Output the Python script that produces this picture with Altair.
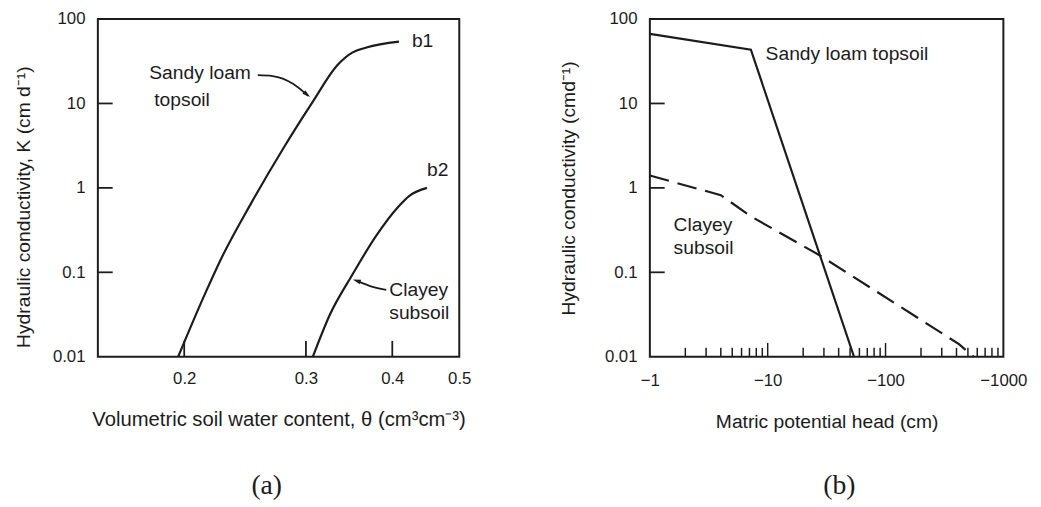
import altair as alt
import pandas as pd

# ---------------- Panel (a): K vs volumetric soil water content ----------------
a_sand_theta = [0.196, 0.214, 0.226, 0.250, 0.279, 0.307, 0.333, 0.350, 0.367, 0.409]
a_sand_k = [0.01, 0.054, 0.143, 0.66, 3.05, 10.5, 28.3, 40.0, 46.0, 54.0]
a_clay_theta = [0.307, 0.325, 0.350, 0.379, 0.409, 0.423, 0.449]
a_clay_k = [0.01, 0.0316, 0.093, 0.27, 0.61, 0.80, 1.0]

a_x_labels = [0.2, 0.3, 0.4, 0.5]
a_x_inner_ticks = [0.2, 0.3, 0.4]
a_y_labels = [0.01, 0.1, 1, 10, 100]
a_y_inner_ticks = [0.1, 1, 10]

a_text = ["Sandy loam", "topsoil", "b1", "b2", "Clayey", "subsoil"]
a_text_theta = [0.178, 0.181, 0.427, 0.449, 0.396, 0.396]
a_text_k = [22.8, 11.1, 55.4, 1.64, 0.0621, 0.0326]

a_arrow_id = ["s", "s", "s", "s", "c", "c", "c"]
a_arrow_theta = [0.2555, 0.2685, 0.2877, 0.3022, 0.392, 0.3707, 0.356]
a_arrow_k = [21.6, 21.1, 17.0, 12.3, 0.0621, 0.0692, 0.0791]
a_head_theta = [0.3005, 0.356]
a_head_k = [12.9, 0.0791]
a_head_angle = [129, 289]

# ---------------- Panel (b): K vs matric potential head ----------------
b_sand_h = [1, 7.2, 54]
b_sand_k = [66.7, 43.3, 0.01]
b_clay_h = [1, 4.0, 7.2, 28, 420, 560]
b_clay_k = [1.4, 0.82, 0.46, 0.157, 0.0141, 0.01]

b_x_labels = [1, 10, 100, 1000]
b_x_minor = [2, 3, 4, 5, 6, 7, 8, 9, 20, 30, 40, 50, 60, 70, 80, 90,
             200, 300, 400, 500, 600, 700, 800, 900]
b_x_major = [10, 100]
b_y_labels = [0.01, 0.1, 1, 10, 100]
b_y_inner_ticks = [0.1, 1, 10]

b_text = ["Sandy loam topsoil", "Clayey", "subsoil"]
b_text_h = [9.6, 1.59, 1.59]
b_text_k = [38.9, 0.363, 0.195]

# ---------------- styling ----------------
FONT = "Liberation Sans"
INK = "#1c1c1c"
W_A, W_B, H = 366, 358, 342
LW = 2.2
TFS = 19.5
HEAD = "M0,-1L0.5,0.7L-0.5,0.7Z"

# ---------------- Panel (a) ----------------
xa = alt.Scale(type="log", domain=[0.15, 0.5], nice=False)
ya = alt.Scale(type="log", domain=[0.01, 100], nice=False)
xa_axis = alt.Axis(values=a_x_labels, format=".1f",
                   title="Volumetric soil water content,  θ   (cm³cm⁻³)",
                   titleFontSize=20.5, labelPadding=14, titlePadding=24)
ya_axis = alt.Axis(values=a_y_labels, format="~g",
                   title="Hydraulic conductivity, K (cm d⁻¹)",
                   labelPadding=13, titlePadding=19, titleY=190)


def XA(f):
    return alt.X(f, scale=xa, axis=xa_axis)


def YA(f):
    return alt.Y(f, scale=ya, axis=ya_axis)


curves_a = pd.DataFrame({
    "theta": a_sand_theta + a_clay_theta,
    "K": a_sand_k + a_clay_k,
    "soil": ["b1"] * len(a_sand_theta) + ["b2"] * len(a_clay_theta),
})

lines_a = alt.Chart(curves_a).mark_line(
    interpolate="monotone", color=INK, strokeWidth=LW
).encode(x=XA("theta:Q"), y=YA("K:Q"), detail="soil:N")

ytick_a = alt.Chart(pd.DataFrame({"v": a_y_inner_ticks})).mark_rule(
    color=INK, strokeWidth=1.8
).encode(y=YA("v:Q"), x=alt.value(0), x2=alt.value(15))

xtick_a = alt.Chart(pd.DataFrame({"v": a_x_inner_ticks})).mark_rule(
    color=INK, strokeWidth=1.8
).encode(x=XA("v:Q"), y=alt.value(H), y2=alt.value(H - 16))

text_a = alt.Chart(pd.DataFrame({"t": a_text, "theta": a_text_theta, "K": a_text_k})).mark_text(
    align="left", baseline="middle", font=FONT, fontSize=TFS, color=INK
).encode(x=XA("theta:Q"), y=YA("K:Q"), text="t:N")

arrow_df = pd.DataFrame({"id": a_arrow_id, "theta": a_arrow_theta, "K": a_arrow_k,
                         "o": list(range(len(a_arrow_id)))})
arrows_a = alt.Chart(arrow_df).mark_line(
    interpolate="monotone", color=INK, strokeWidth=1.8
).encode(x=XA("theta:Q"), y=YA("K:Q"), detail="id:N", order="o:Q")

heads_a = alt.Chart(pd.DataFrame({"theta": a_head_theta, "K": a_head_k, "ang": a_head_angle})).mark_point(
    shape=HEAD, filled=True, size=90, color=INK, opacity=1
).encode(x=XA("theta:Q"), y=YA("K:Q"), angle=alt.Angle("ang:Q", scale=None))

panel_a = alt.layer(lines_a, ytick_a, xtick_a, text_a, arrows_a, heads_a).properties(
    width=W_A, height=H,
    title=alt.TitleParams("(a)", orient="bottom", font="Liberation Serif", fontSize=28,
                          fontWeight="normal", color=INK, offset=42, frame="group", dx=-12),
)

# ---------------- Panel (b) ----------------
xb = alt.Scale(type="log", domain=[1, 1000], nice=False)
yb = alt.Scale(type="log", domain=[0.01, 100], nice=False)
xb_axis = alt.Axis(values=b_x_labels, labelExpr="'\u2212' + format(datum.value, 'd')",
                   title="Matric potential head (cm)", labelPadding=16, titlePadding=25)
yb_axis = alt.Axis(values=b_y_labels, format="~g",
                   title="Hydraulic conductivity (cmd⁻¹)", labelPadding=13, titlePadding=26)


def XB(f):
    return alt.X(f, scale=xb, axis=xb_axis)


def YB(f):
    return alt.Y(f, scale=yb, axis=yb_axis)


sand_b = pd.DataFrame({"h": b_sand_h, "K": b_sand_k})
clay_b = pd.DataFrame({"h": b_clay_h, "K": b_clay_k})

sand_line_b = alt.Chart(sand_b).mark_line(color=INK, strokeWidth=LW).encode(
    x=XB("h:Q"), y=YB("K:Q"))

clay_line_b = alt.Chart(clay_b).mark_line(
    color=INK, strokeWidth=LW, strokeDash=[20, 9]
).encode(x=XB("h:Q"), y=YB("K:Q"))

ytick_b = alt.Chart(pd.DataFrame({"v": b_y_inner_ticks})).mark_rule(
    color=INK, strokeWidth=1.8
).encode(y=YB("v:Q"), x=alt.value(0), x2=alt.value(15))

minor_b = alt.Chart(pd.DataFrame({"v": b_x_minor})).mark_rule(
    color=INK, strokeWidth=1.5
).encode(x=XB("v:Q"), y=alt.value(H), y2=alt.value(H - 9))

major_b = alt.Chart(pd.DataFrame({"v": b_x_major})).mark_rule(
    color=INK, strokeWidth=1.5
).encode(x=XB("v:Q"), y=alt.value(H), y2=alt.value(H - 14))

text_b = alt.Chart(pd.DataFrame({"t": b_text, "h": b_text_h, "K": b_text_k})).mark_text(
    align="left", baseline="middle", font=FONT, fontSize=TFS, color=INK
).encode(x=XB("h:Q"), y=YB("K:Q"), text="t:N")

panel_b = alt.layer(sand_line_b, clay_line_b, ytick_b, minor_b, major_b, text_b).properties(
    width=W_B, height=H,
    title=alt.TitleParams("(b)", orient="bottom", font="Liberation Serif", fontSize=28,
                          fontWeight="normal", color=INK, offset=42, frame="group", dx=13),
)

chart = alt.hconcat(panel_a, panel_b, spacing=193, bounds="flush").properties(
    padding={"left": 4, "top": -2, "right": 5, "bottom": 2},
).configure_view(
    stroke=INK, strokeWidth=2
).configure_axis(
    labelFont=FONT, titleFont=FONT, labelFontSize=17, titleFontSize=TFS,
    labelColor=INK, titleColor=INK, titleFontWeight="normal",
    domain=False, ticks=False, grid=False, labelOverlap=False, labelFlush=False,
)

chart.save("out.html", embed_options={"renderer": "svg", "actions": False})
